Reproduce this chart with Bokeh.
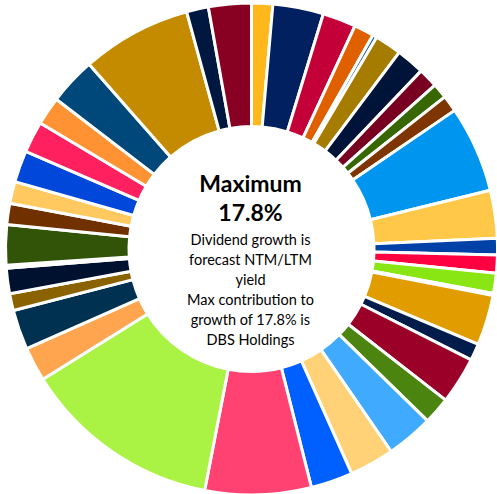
import numpy as np
from bokeh.plotting import figure
from bokeh.models import Range1d, ColumnDataSource
from bokeh.core.properties import value
from bokeh.embed import file_html
from bokeh.resources import INLINE

# Share of each holding (percent of total), clockwise from 12 o'clock
shares = [1.39, 3.33, 2.19, 1.31, 0.28, 1.75, 1.86, 1.28, 1.00, 1.08,
          5.69, 3.14, 1.08, 1.19, 1.31, 0.14, 3.31, 1.11, 3.08, 1.78,
          3.08, 2.94, 2.75, 6.97, 13.06, 2.25, 2.61, 1.11, 1.67, 0.19,
          2.64, 1.39, 1.44, 2.08, 2.06, 1.86, 3.11, 7.22, 1.44, 2.81]
colors = ["#FFB81C", "#002060", "#C40038", "#E06000", "#1F5A8A", "#A67C00", "#001338", "#780021", "#386600", "#7F3500",
          "#0095EE", "#FFC848", "#0041A8", "#FF0040", "#8AE612", "#FF9050", "#E19C00", "#001C4A", "#9B0029", "#4C8410",
          "#40AAFF", "#FFD278", "#005FFF", "#FF4272", "#AAF243", "#FFA54F", "#003150", "#8A6200", "#001130", "#E0B8C8",
          "#315408", "#703000", "#FFC960", "#0047DA", "#FF2060", "#FF9333", "#00477A", "#C48A00", "#00183F", "#880022"]

title_lines = ["Maximum", "17.8%"]
body_lines = ["Dividend growth is", "forecast NTM/LTM", "yield",
              "Max contribution to", "growth of 17.8% is", "DBS Holdings"]

W, H = 497, 494
p = figure(width=W, height=H, output_backend="svg", toolbar_location=None,
           x_range=Range1d(0, W), y_range=Range1d(0, H), min_border=0)
p.axis.visible = False
p.grid.visible = False
p.outline_line_color = None
p.background_fill_color = "white"

vals = np.array(shares, dtype=float)
frac = vals / vals.sum()
cum = np.concatenate([[0.0], np.cumsum(frac)])
theta0 = cum[:-1] * 2 * np.pi
theta1 = cum[1:] * 2 * np.pi
start = np.pi / 2 - theta0
end = np.pi / 2 - theta1

cx, cy = 251, H - 248.5
src = ColumnDataSource(dict(start=start, end=end, color=colors))
p.annular_wedge(x=cx, y=cy, inner_radius=122.5, outer_radius=246,
                inner_radius_units="screen", outer_radius_units="screen",
                start_angle="start", end_angle="end", direction="clock",
                fill_color="color", line_color="white", line_width=3, source=src)

tx = 250
title_base = [182.5, 211.5]
body_base = [238.5, 258.5, 278.5, 299, 319, 338.5]
p.text(x=[tx] * 2, y=[H - b for b in title_base], text=title_lines,
       text_font=value("Lato"), text_font_style="bold", text_font_size="23px",
       text_align="center", text_baseline="alphabetic", text_color="black")
p.text(x=[tx] * 6, y=[H - b for b in body_base], text=body_lines,
       text_font=value("Lato"), text_font_size="14.5px",
       text_align="center", text_baseline="alphabetic", text_color="black")

open("out.html", "w").write(file_html(p, INLINE))
